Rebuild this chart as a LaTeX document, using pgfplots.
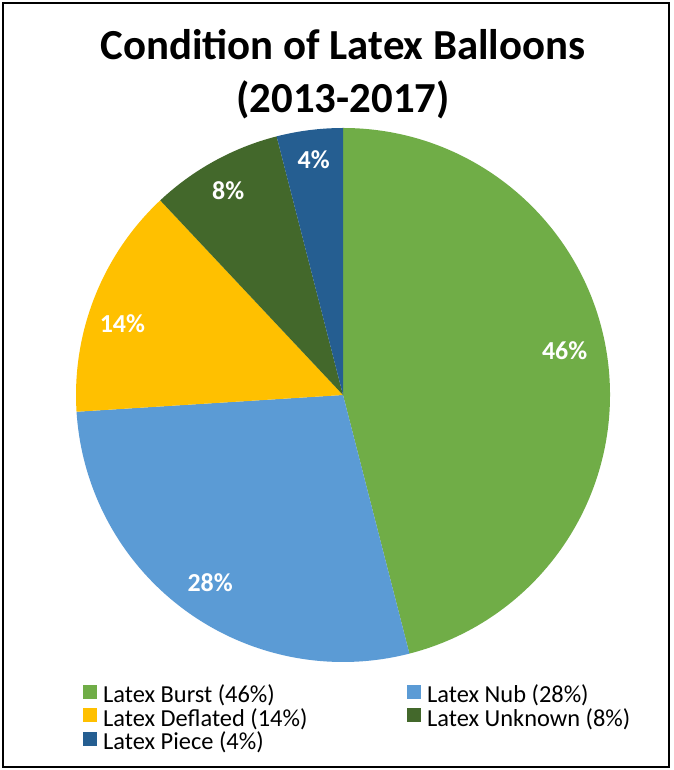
\documentclass[border=0pt]{standalone}
\usepackage{pgfplots}
\pgfplotsset{compat=1.18}
\usepackage{pgfplotstable}
\usepackage{fontspec}
\setmainfont{Carlito}
\definecolor{cBurst}{HTML}{70AD47}
\definecolor{cNub}{HTML}{5B9BD5}
\definecolor{cDefl}{HTML}{FFC000}
\definecolor{cUnkn}{HTML}{43682B}
\definecolor{cPiece}{HTML}{255E91}
\newcommand\lblfont{\bfseries\fontsize{26}{31}\selectfont}
\newcommand\legfont{\fontsize{24.5}{29}\selectfont}
\newcommand\titlefont{\bfseries\fontsize{43}{51}\selectfont}
\pgfplotstableread[col sep=comma]{
name,value,col,dang,rad
Latex Burst,46,cBurst,4.1,226
Latex Nub,28,cNub,0.7,230
Latex Deflated,14,cDefl,3.6,232
Latex Unknown,8,cUnkn,0.6,234
Latex Piece,4,cPiece,-0.1,237
}\piedata
\begin{document}
\begin{tikzpicture}
\begin{axis}[width=673bp, height=770bp, scale only axis,
  xmin=0, xmax=673, ymin=0, ymax=770, hide axis, clip=false]
\fill[white] (axis cs:0,0) rectangle (axis cs:673,770);
\draw[line width=2.5bp, black] (axis cs:3,3) rectangle (axis cs:669,767);
\node[anchor=base, font=\titlefont] at (axis cs:343,710) {Condition of Latex Balloons};
\node[anchor=base, font=\titlefont] at (axis cs:343,657) {(2013-2017)};
% slices
\def\startang{90}
\pgfplotsforeachungrouped \i in {0,...,4}{%
  \pgfplotstablegetelem{\i}{value}\of\piedata \let\sval\pgfplotsretval
  \pgfplotstablegetelem{\i}{col}\of\piedata \let\scol\pgfplotsretval
  \pgfmathsetmacro\endang{\startang-3.6*\sval}
  \pgfmathsetmacro\sx{343+267*cos(\startang)}
  \pgfmathsetmacro\sy{375+267*sin(\startang)}
  \edef\temp{%
    \noexpand\fill[\scol] (axis cs:343,375) -- (axis cs:\sx,\sy)
      arc[start angle=\startang, end angle=\endang, radius=267bp] -- cycle;
  }\temp
  \let\startang\endang
}
% labels and legend
\def\startang{90}
\pgfplotsforeachungrouped \i in {0,...,4}{%
  \pgfplotstablegetelem{\i}{value}\of\piedata \let\sval\pgfplotsretval
  \pgfplotstablegetelem{\i}{col}\of\piedata \let\scol\pgfplotsretval
  \pgfplotstablegetelem{\i}{dang}\of\piedata \let\sda\pgfplotsretval
  \pgfplotstablegetelem{\i}{rad}\of\piedata \let\srr\pgfplotsretval
  \pgfplotstablegetelem{\i}{name}\of\piedata \let\snm\pgfplotsretval
  \pgfmathsetmacro\endang{\startang-3.6*\sval}
  \pgfmathsetmacro\ma{(\startang+\endang)/2+\sda}
  \pgfmathsetmacro\lx{343+\srr*cos(\ma)}
  \pgfmathsetmacro\ly{375+\srr*sin(\ma)}
  \pgfmathtruncatemacro\lc{mod(\i,2)}
  \pgfmathtruncatemacro\lr{floor(\i/2)}
  \pgfmathsetmacro\gx{83+324*\lc}
  \pgfmathsetmacro\gxx{\gx+14}
  \pgfmathsetmacro\gtx{\gx+20}
  \pgfmathsetmacro\gy{67-23.5*\lr}
  \pgfmathsetmacro\gya{\gy+4}
  \pgfmathsetmacro\gyb{\gy+18}
  \edef\temp{%
    \noexpand\node[text=white, font=\noexpand\lblfont, inner sep=0pt] at (axis cs:\lx,\ly) {\sval\noexpand\%};
    \noexpand\fill[\scol] (axis cs:\gx,\gya) rectangle (axis cs:\gxx,\gyb);
    \noexpand\node[anchor=base west, inner sep=0pt, font=\noexpand\legfont] at (axis cs:\gtx,\gy) {\snm\space(\sval\noexpand\%)};
  }\temp
  \let\startang\endang
}
\end{axis}
\end{tikzpicture}
\end{document}
